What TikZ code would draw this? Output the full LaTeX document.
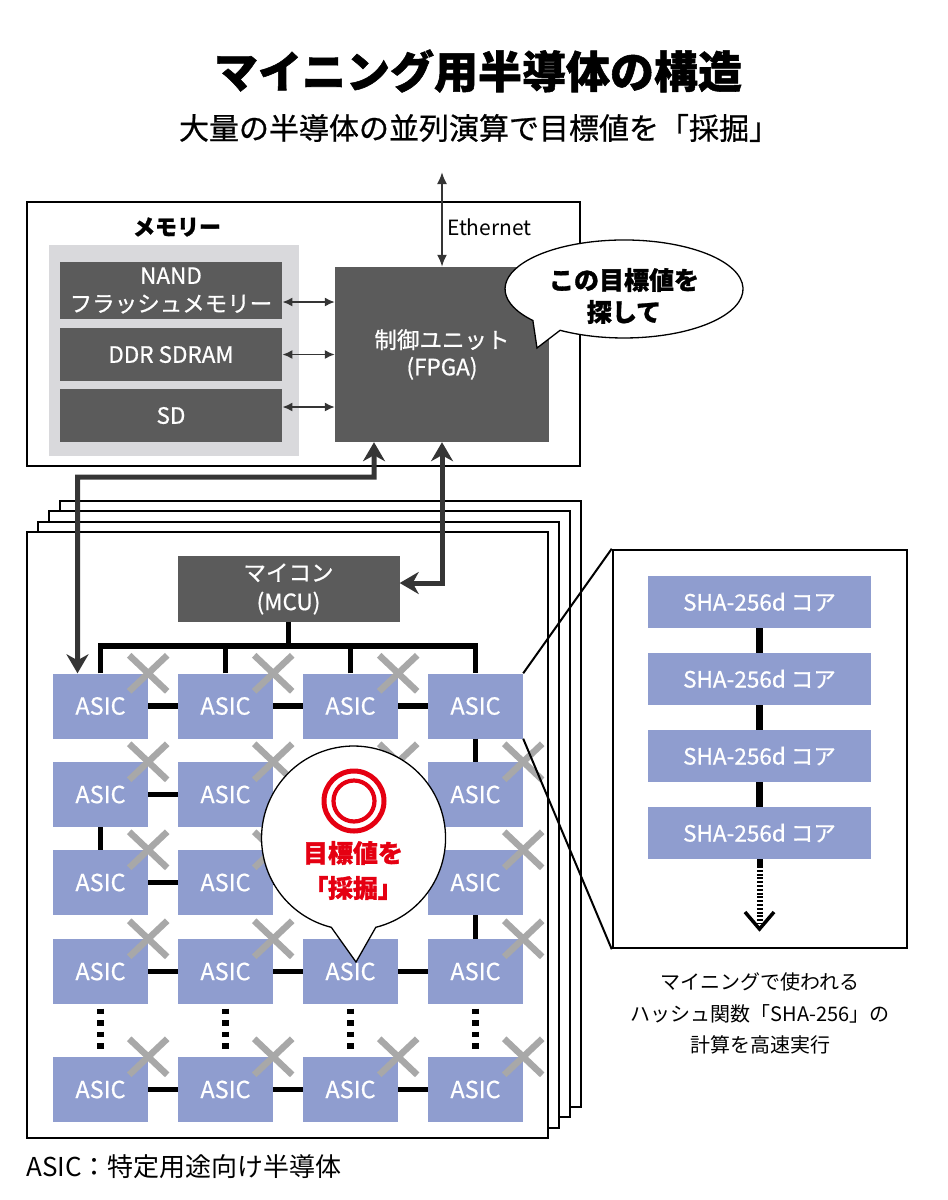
\documentclass[tikz,border=0pt]{standalone}
\usepackage{fontspec}
\setmainfont{Noto Sans CJK JP}
\newfontfamily\medfont[FakeBold=0.7]{Noto Sans CJK JP}
\usetikzlibrary{arrows.meta}
\definecolor{boxgray}{HTML}{5B5B5B}
\definecolor{memgray}{HTML}{D9D9DC}
\definecolor{asicblue}{HTML}{8F9DCF}
\definecolor{xgray}{HTML}{A8A8A8}
\definecolor{mred}{HTML}{E50012}
\definecolor{arrowdark}{HTML}{353535}
\newcommand{\myfs}[2]{\fontsize{#1}{#2}\selectfont}
\newcommand{\heavy}{\bfseries\addfontfeature{FakeBold=1.2}}
\begin{document}
\begin{tikzpicture}[x=1pt,y=-1pt,
  darkbox/.style={fill=boxgray, text=white, inner sep=0pt, align=center, font=\medfont\myfs{22.5}{28}},
  asic/.style={fill=asicblue, minimum width=95pt, minimum height=65pt, inner sep=0pt, text=white, font=\medfont\myfs{23.5}{23.5}},
  core/.style={fill=asicblue, minimum width=223pt, minimum height=52pt, inner sep=0pt, text=white, font=\medfont\myfs{22.5}{22.5}},
  wire/.style={line width=5.5pt, draw=black},
  xmark/.style={line width=6.5pt, draw=xgray},
  pagebox/.style={draw=black, line width=2pt, fill=white},
  memarrow/.style={line width=1.6pt, draw=arrowdark, {Latex[length=10pt,width=9pt]}-{Latex[length=10pt,width=9pt]}},
  etharrow/.style={line width=2pt, draw=arrowdark, {Latex[length=12pt,width=10pt]}-{Latex[length=12pt,width=10pt]}},
  thickarrow/.style={line width=5pt, draw=arrowdark, line join=miter, {Stealth[length=19pt,width=22pt,inset=6pt]}-{Stealth[length=19pt,width=22pt,inset=6pt]}},
  bubble/.style={draw=black, line width=1.3pt, fill=white, line join=miter}
]
\useasboundingbox (0,0) rectangle (948,1200);

% titles
\node[font=\heavy\myfs{44}{44}] (title) at (478,71) {マイニング用半導体の構造};
\node[font=\medfont\myfs{30}{30}] (subtitle) at (479,128) {大量の半導体の並列演算で目標値を「採掘」};

% top unit
\node[draw=black, line width=2.5pt, minimum width=553pt, minimum height=264pt, inner sep=0pt] (topbox) at (303.5,334) {};
\node[fill=memgray, minimum width=250.5pt, minimum height=211pt, inner sep=0pt] (mempanel) at (173.75,350.5) {};
\node[font=\heavy\myfs{22}{22}] (memlabel) at (177,227) {メモリー};
\node[darkbox, minimum width=222.5pt, minimum height=57pt] (nand) at (171,290.5) {NAND\\フラッシュメモリー};
\node[darkbox, minimum width=222.5pt, minimum height=53pt] (ddr) at (171,354.5) {DDR SDRAM};
\node[darkbox, minimum width=222.5pt, minimum height=53pt] (sd) at (171,415.5) {SD};
\node[darkbox, minimum width=214pt, minimum height=175pt, font=\medfont\myfs{22.5}{27}] (fpga) at (442,354.5) {制御ユニット\\(FPGA)};

\coordinate (m1) at (0,302);
\coordinate (m2) at (0,354.5);
\coordinate (m3) at (0,407);
\draw[memarrow] (nand.east |- m1) -- (fpga.west |- m1);
\draw[memarrow] (ddr.east |- m2) -- (fpga.west |- m2);
\draw[memarrow] (sd.east |- m3) -- (fpga.west |- m3);

\coordinate (ethtop) at (442,172);
\draw[etharrow] (ethtop) -- (fpga.north);
\node[anchor=west, font=\myfs{21}{21}, inner sep=0pt] (ethlabel) at (447,227) {Ethernet};

% stacked boards
\foreach \k in {3,2,1}
  \draw[pagebox] (27+11*\k,532-10.3*\k) rectangle (548+11*\k,1138-10.3*\k);
\node[pagebox, minimum width=521pt, minimum height=606pt, inner sep=0pt] (board) at (287.5,835) {};

% MCU
\node[darkbox, minimum width=222pt, minimum height=66pt, font=\medfont\myfs{22.5}{29}] (mcu) at (288.5,589) {マイコン\\(MCU)};

% ASIC grid (the two chips fully hidden by the bubble carry no visible label)
\foreach \c/\x in {1/100.5,2/225.5,3/350.5,4/475.5}
  \foreach \r/\y in {1/706,2/794.5,3/882.5,4/971.5,5/1089.5}
    \node[asic] (a\r\c) at (\x,\y) {\ifnum\c=3 \ifnum\r=2 \else\ifnum\r=3 \else ASIC\fi\fi\else ASIC\fi};

% bus from MCU
\coordinate (bus) at (0,646);
\draw[wire] (a11.north) -- (a11.north |- bus) -- (a14.north |- bus) -- (a14.north);
\draw[wire] (mcu.south) -- (mcu.south |- bus);
\draw[wire] (a12.north) -- (a12.north |- bus);
\draw[wire] (a13.north) -- (a13.north |- bus);

% row links
\foreach \r in {1,2,3,4,5}
  \foreach \c/\d in {1/2,2/3,3/4}
    \draw[wire] (a\r\c.east) -- (a\r\d.west);
\draw[wire] (a14.south) -- (a24.north);
\draw[wire] (a21.south) -- (a31.north);
\draw[wire] (a34.south) -- (a44.north);
\foreach \c in {1,2,3,4}
  \draw[line width=7pt, dash pattern=on 5.5pt off 6pt] ([yshift=-4.5pt]a4\c.south) -- ([yshift=6pt]a5\c.north);

% failed marks
\foreach \n in {11,12,13,21,22,23,24,31,32,33,34,41,42,44,51,52,53,54}
  \draw[xmark] (a\n.north east) +(-19,-18) -- +(19,18) +(-19,18) -- +(19,-18);

% links to FPGA
\draw[thickarrow] ([xshift=-68pt]fpga.south) -- ++(0,35) -- (77.5,477) -- ([xshift=-23pt]a11.north);
\coordinate (mcurow) at (0,583);
\draw[thickarrow] (fpga.south) -- (fpga.south |- mcurow) -- (mcu.east |- mcurow);

% found bubble
\draw[bubble] (375.8,927.3) arc[start angle=76, end angle=-256, radius=92] -- (356,962) -- cycle;
\coordinate (ring) at (354,801);
\draw[mred, line width=5pt] (ring) circle[radius=30];
\draw[mred, line width=4.2pt] (ring) circle[radius=20.5];
\node[text=mred, font=\heavy\myfs{25}{35}, align=center] (found) at (353,870.5) {目標値を\\\addfontfeature{RawFeature=+palt}「採掘」};

% search bubble
\draw[bubble] (560.1,330.3) arc[start angle=122.5, end angle=-220, x radius=119, y radius=49] -- (537,348) -- cycle;
\node[font=\heavy\myfs{25}{32}, align=center] (search) at (624,296) {この目標値を\\探して};

% SHA panel
\node[draw=black, line width=2.5pt, fill=white, minimum width=294pt, minimum height=398pt, inner sep=0pt] (shapanel) at (760,749) {};
\draw[line width=2pt] (a14.north east) -- (shapanel.north west);
\draw[line width=2pt] (a14.south east) -- (shapanel.south west);
\foreach \i/\y in {1/602,2/679,3/756,4/833}
  \node[core] (core\i) at (759.5,\y) {SHA-256d コア};
\draw[line width=7pt] (core1.south) -- (core2.north);
\draw[line width=7pt] (core2.south) -- (core3.north);
\draw[line width=7pt] (core3.south) -- (core4.north);
\coordinate (dstart) at (759.5,866);
\coordinate (arrowend) at (759.5,929);
\draw[line width=6pt] (core4.south) -- (dstart);
\draw[line width=6pt, dash pattern=on 2pt off 1.8pt] (dstart) -- ([yshift=5pt]arrowend);
\draw[line width=3.5pt, line join=miter] (745,912) -- (arrowend) -- (774,912);
\node[align=center, font=\myfs{20}{31.5}] (caption) at (760,1013.5) {マイニングで使われる\\ハッシュ関数「SHA-256」の\\計算を高速実行};

% note
\node[anchor=west, font=\myfs{26}{26}, inner sep=0pt] (note) at (26,1167) {ASIC：特定用途向け半導体};
\end{tikzpicture}
\end{document}
